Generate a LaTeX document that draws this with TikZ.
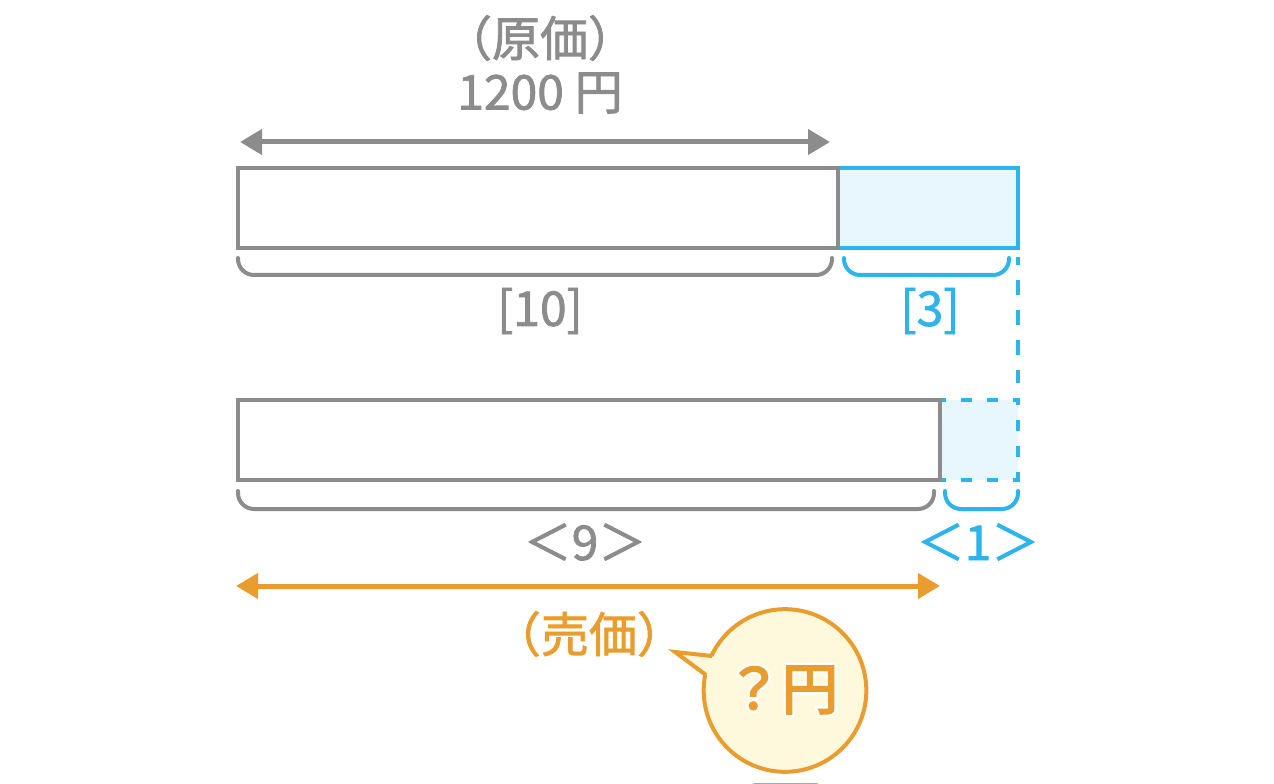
\documentclass[tikz,border=0pt]{standalone}
\usepackage{fontspec}
\setmainfont[FakeBold=1.6]{Noto Sans CJK JP}
\newfontfamily\bubfont[FakeBold=3.5]{Noto Sans CJK JP}
\newfontfamily\halofont[FakeBold=12]{Noto Sans CJK JP}
\usetikzlibrary{arrows.meta}
\definecolor{gr}{HTML}{8C8C8C}
\definecolor{bl}{HTML}{2EB4EC}
\definecolor{lb}{HTML}{E8F7FE}
\definecolor{og}{HTML}{EA9D2F}
\definecolor{ly}{HTML}{FEF8DC}
\tikzset{
  x=0.75pt,y=-0.75pt,
  lbl/.style={inner sep=0pt,font=\fontsize{36}{36}\selectfont,text=#1},
  dim/.style={line width=3.75pt,draw=#1,{Triangle[length=16.5pt,width=18.5pt,fill=#1]}-{Triangle[length=16.5pt,width=18.5pt,fill=#1]}},
  brace/.style={line width=3pt,draw=#1,line cap=round,rounded corners=12pt},
  dshbox/.style={draw=bl,line width=3pt,dash pattern=on 8.25pt off 11.25pt,dash phase=3pt},
  dshline/.style={draw=bl,line width=3pt,dash pattern=on 11.25pt off 11.25pt,dash phase=5.25pt},
  barbox/.style={draw=#1,line width=3pt}
}
\begin{document}
\begin{tikzpicture}
\useasboundingbox (0,0) rectangle (1274,784);
% top bar
\draw[barbox=bl,fill=lb] (838,168) rectangle (1018,248);
\draw[barbox=gr] (238,168) rectangle (838,248);
% top arrow
\coordinate (p1) at (240,142);
\coordinate (p2) at (830,142);
\draw[dim=gr] (p1) -- (p2);
\node[lbl=gr] (t1) at (540,38) {（原価）};
\node[lbl=gr] (t2) at (540,93) {1200 円};
% braces
\draw[brace=gr] (238,258) -- (238,275) -- (832,275) -- (832,258);
\draw[brace=bl] (844,258) -- (844,275) -- (1009,275) -- (1009,258);
\node[lbl=gr] (t3) at (540,311) {[10]};
\node[lbl=bl] (t4) at (930,311) {[3]};
% lower bar
\fill[lb] (940,400) rectangle (1018,480);
\draw[dshline] (1018,257) -- (1018,383);
\draw[dshbox] (1020,400) -- (940,400);
\draw[dshbox] (1020,480) -- (940,480);
\draw[dshbox] (1018,398) -- (1018,482);
\draw[barbox=gr] (238,400) rectangle (940,480);
\draw[brace=gr] (238,491) -- (238,509) -- (934,509) -- (934,491);
\draw[brace=bl] (945,491) -- (945,509) -- (1018,509) -- (1018,491);
\node[lbl=gr] (t5) at (585,542) {＜9＞};
\node[lbl=bl] (t6) at (978,542) {＜1＞};
% orange arrow
\coordinate (q1) at (236,586);
\coordinate (q2) at (940,586);
\draw[dim=og] (q1) -- (q2);
\node[lbl=og] (t7) at (589,634) {（売価）};
% callout
\node[circle,draw=og,line width=3pt,fill=ly,minimum size=122pt,inner sep=0pt] (bub) at (785,690.5) {};
\coordinate (tip) at (675,652);
\fill[ly] (712,656) -- (tip) -- (706,675) -- (730,680) -- cycle;
\draw[og,line width=3pt,line join=miter] (712,656) -- (tip) -- (706,675);
\node[inner sep=0pt,text=og,font=\fontsize{42}{42}\selectfont] (t8) at (782,690)
  {\rlap{\halofont\textcolor{white}{？円}}\bubfont ？円};
% clipped shape at the lower edge
\begin{scope}
\clip (0,0) rectangle (1274,784);
\draw[draw=og,line width=3pt,fill=ly,rounded corners=3pt] (751,785) rectangle (820,830);
\end{scope}
\end{tikzpicture}
\end{document}
